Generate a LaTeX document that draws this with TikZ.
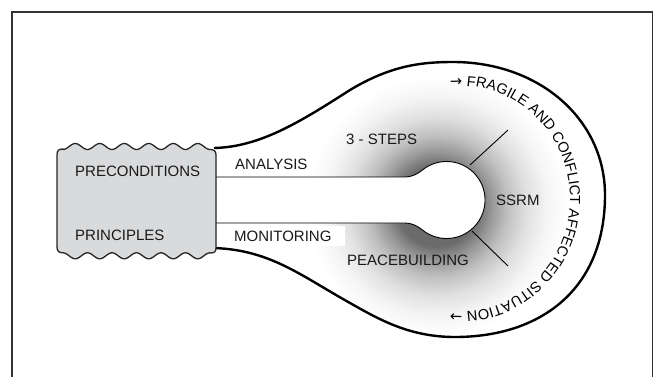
\documentclass[tikz,border=0pt]{standalone}
\usepackage{fontspec}
\setmainfont{Liberation Sans}
\newfontfamily\arrowfont{DejaVu Sans}
\usetikzlibrary{decorations.text}

% soft grey glow around the hub (25bp = radius of the shaded disc)
\pgfdeclareradialshading{hubglow}{\pgfpoint{0bp}{0bp}}{%
  color(0bp)=(black!58); color(7.7bp)=(black!58);
  color(10.6bp)=(black!40); color(13.5bp)=(black!25);
  color(17.3bp)=(black!12); color(21.2bp)=(black!4);
  color(25bp)=(white); color(50bp)=(white)}

\definecolor{boxgrey}{HTML}{D9DADC}
\definecolor{framegrey}{HTML}{333333}

\newcommand\ringtext{\fontsize{14.6}{17}\selectfont\rmfamily}
\newcommand\ringarrow{\fontsize{14.6}{17}\selectfont\arrowfont}

\tikzset{
  lbl/.style={font=\fontsize{15}{18}\selectfont, inner sep=0pt, anchor=base west, text=black!90},
  bulbline/.style={line width=2.4pt, line join=round},
  thinline/.style={line width=0.9pt},
  scallop/.style={fill=boxgrey, draw=black!85, line width=1.3pt, line join=round},
}

\def\bulbpath{(214,148) .. controls (260,147) and (300,122) .. (350,90)
  .. controls (390,66) and (420,62) .. (453,62)
  .. controls (540,62) and (605,120) .. (605,195)
  .. controls (605,290) and (540,337) .. (455,337)
  .. controls (410,337) and (380,320) .. (350,303)
  .. controls (300,275) and (270,250) .. (214,248)}

\begin{document}
\begin{tikzpicture}[x=1pt, y=-1pt]
\useasboundingbox (0,0) rectangle (657,376);

% outer frame (open at the bottom)
\draw[framegrey, line width=1.6pt] (12,380) -- (12,12) -- (652.5,12) -- (652.5,380);

% grey glow inside the bulb
\begin{scope}
  \clip \bulbpath -- cycle;
  \fill[white] \bulbpath -- cycle;
  \shade[shading=hubglow] (437,206) circle[radius=130];
\end{scope}

% white stem and hub
\draw[thinline, fill=white] (214,177) -- (405,177)
  .. controls (411,177) and (417.2,174.4) .. (421.8,170.5)
  arc[start angle=-130, end angle=130, radius=38.5]
  .. controls (417.2,225.6) and (411,223) .. (405,223) -- (214,223);

% bulb outline
\draw[bulbline] \bulbpath;

% spokes from the hub
\coordinate (s1a) at (470,165);
\coordinate (s1b) at (508,130);
\coordinate (s2a) at (472,231);
\coordinate (s2b) at (508,266);
\draw[thinline] (s1a) -- (s1b);
\draw[thinline] (s2a) -- (s2b);

% scalloped box
\draw[scallop] (57,155) .. controls (57,150) and (59,149) .. (63,149)
  -- plot[domain=63:210, samples=120, smooth] (\x, {146.5+3*cos(14.6939*(\x-63))})
  .. controls (214,149.5) and (216,151) .. (216,155)
  -- (216,248) .. controls (216,252) and (214,253) .. (210,253)
  -- plot[domain=210:63, samples=120, smooth] (\x, {255.8-3*cos(14.6939*(\x-63))})
  .. controls (59,253) and (57,251) .. (57,247) -- cycle;

% labels
\node[lbl] (pre) at (75,176.5) {PRECONDITIONS};
\node[lbl] (pri) at (75,240) {PRINCIPLES};
\node[lbl] (ana) at (235,169.3) {ANALYSIS};
\node[lbl, fill=white, inner xsep=14pt, inner ysep=5pt, xshift=-14pt] (mon) at (234,241) {MONITORING\hspace{7pt}};
\node[lbl] (stp) at (346,144.3) {3 - STEPS};
\node[lbl] (pea) at (347,265) {PEACEBUILDING};
\node[lbl] (ssr) at (496,205) {SSRM};

% text running round the bulb
\path[decorate, decoration={text along path, text align=center,
    text={|\ringarrow|→|\ringtext| FRAGILE AND CONFLICT AFFECTED SITUATION |\ringarrow|→}}]
  (460,199) ++(-102:110 and 113) arc[start angle=-102, end angle=102, x radius=110, y radius=113];
\end{tikzpicture}
\end{document}
